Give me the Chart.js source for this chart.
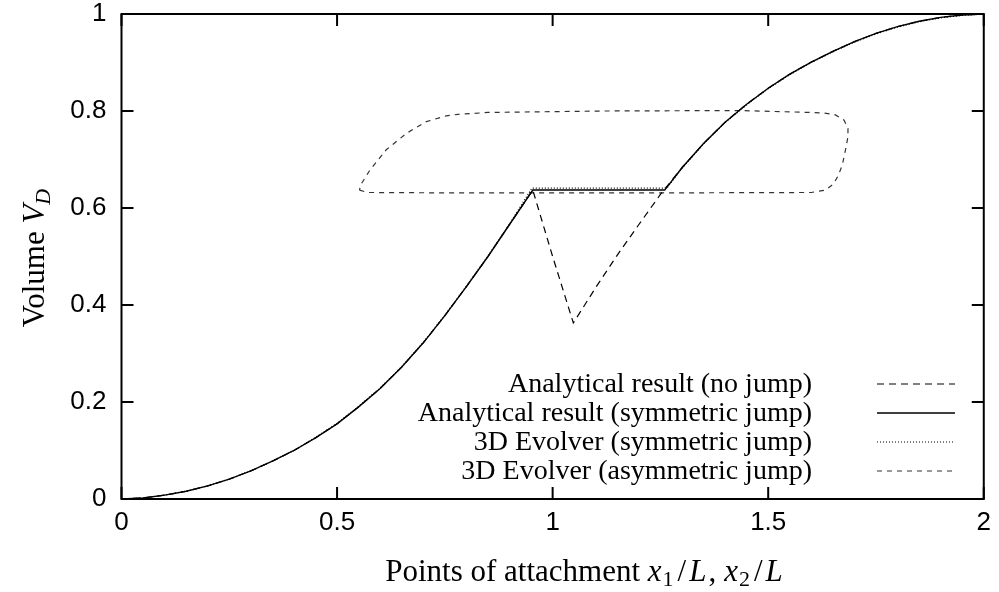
<!DOCTYPE html>
<html><head><meta charset="utf-8">
<script src="https://cdn.jsdelivr.net/npm/chart.js@4/dist/chart.umd.min.js"></script>
<style>html,body{margin:0;padding:0;background:#fff;}canvas{display:block;}</style>
</head><body>
<canvas id="c" width="999" height="592"></canvas>
<script>
// ---- tick values / labels ----
const xTickValues = [0, 0.5, 1, 1.5, 2];
const xTickLabels = ['0', '0.5', '1', '1.5', '2'];
const yTickValues = [0, 0.2, 0.4, 0.6, 0.8, 1];
const yTickLabels = ['0', '0.2', '0.4', '0.6', '0.8', '1'];

// ---- series labels ----
const seriesLabels = [
  'Analytical result (no jump)',
  'Analytical result (symmetric jump)',
  '3D Evolver (symmetric jump)',
  '3D Evolver (asymmetric jump)'
];

// ---- Analytical result (no jump) ----
const noJumpX = [0,0.05,0.1,0.15,0.2,0.25,0.3,0.35,0.4,0.45,0.5,0.55,0.6,0.65,0.7,0.75,0.8,0.85,0.9,0.954,
  1.0,1.048,1.1,1.15,1.2,1.25,1.3,1.35,1.4,1.45,1.5,1.55,1.6,1.65,1.7,1.75,1.8,1.85,1.9,1.95,2.0];
const noJumpV = [0,0.002,0.008,0.016,0.027,0.041,0.058,0.078,0.100,0.126,0.155,0.190,0.228,0.272,0.322,0.378,0.438,0.500,0.566,0.637,
  0.500,0.363,0.436,0.503,0.566,0.628,0.683,0.733,0.777,0.814,0.847,0.876,0.901,0.923,0.943,0.960,0.974,0.985,0.993,0.998,1.0];

// ---- Analytical result (symmetric jump) ----
const symX = [0,0.05,0.1,0.15,0.2,0.25,0.3,0.35,0.4,0.45,0.5,0.55,0.6,0.65,0.7,0.75,0.8,0.85,0.9,0.954,
  1.26,1.3,1.35,1.4,1.45,1.5,1.55,1.6,1.65,1.7,1.75,1.8,1.85,1.9,1.95,2.0];
const symV = [0,0.002,0.008,0.016,0.027,0.041,0.058,0.078,0.100,0.126,0.155,0.190,0.228,0.272,0.322,0.378,0.438,0.500,0.566,0.637,
  0.637,0.683,0.733,0.777,0.814,0.847,0.876,0.901,0.923,0.943,0.960,0.974,0.985,0.993,0.998,1.0];

// ---- 3D Evolver (symmetric jump) ----
const evoSymX = [0,0.05,0.1,0.15,0.2,0.25,0.3,0.35,0.4,0.45,0.5,0.55,0.6,0.65,0.7,0.75,0.8,0.85,0.9,0.952,
  1.265,1.3,1.35,1.4,1.45,1.5,1.55,1.6,1.65,1.7,1.75,1.8,1.85,1.9,1.95,2.0];
const evoSymV = [0,0.002,0.008,0.016,0.027,0.041,0.058,0.078,0.100,0.127,0.156,0.191,0.229,0.273,0.323,0.379,0.439,0.501,0.567,0.641,
  0.641,0.682,0.732,0.776,0.813,0.846,0.875,0.900,0.922,0.942,0.959,0.973,0.984,0.992,0.997,1.0];

// ---- 3D Evolver (asymmetric jump): closed loop ----
const evoAsymX = [0.552,0.57,0.8,1.2,1.6,1.633,1.652,1.663,1.672,1.680,1.685,1.685,1.676,1.656,1.629,1.6,1.43,1.12,0.85,0.78,0.753,0.707,0.661,0.614,0.576,0.555,0.552];
const evoAsymV = [0.637,0.632,0.631,0.631,0.632,0.637,0.650,0.668,0.689,0.723,0.747,0.764,0.781,0.792,0.796,0.797,0.801,0.800,0.797,0.793,0.790,0.778,0.754,0.720,0.678,0.648,0.637];

function pts(xs, vs) { return xs.map((x, i) => ({x: x, y: vs[i]})); }

const SERIF = '"Liberation Serif", "DejaVu Serif", serif';
const SANS = '"Liberation Sans", Arial, sans-serif';

function drawRuns(ctx, runs, cx, cy) {
  let total = 0;
  runs.forEach(r => { ctx.font = r.f; r.w = ctx.measureText(r.t).width + (r.pl || 0) + (r.pr || 0); total += r.w; });
  let x = cx - total / 2;
  ctx.textAlign = 'left';
  ctx.textBaseline = 'alphabetic';
  runs.forEach(r => { ctx.font = r.f; ctx.fillText(r.t, x + (r.pl || 0), cy + (r.dy || 0)); x += r.w; });
}

const framePlugin = {
  id: 'frame',
  afterDraw(chart) {
    const {ctx, chartArea: a, scales: {x, y}} = chart;
    ctx.save();
    ctx.setLineDash([]);
    ctx.strokeStyle = '#000';
    ctx.lineWidth = 2;
    ctx.strokeRect(a.left, a.top, a.right - a.left, a.bottom - a.top);
    ctx.beginPath();
    xTickValues.forEach(v => {
      const p = x.getPixelForValue(v);
      ctx.moveTo(p, a.bottom); ctx.lineTo(p, a.bottom - 12);
      ctx.moveTo(p, a.top); ctx.lineTo(p, a.top + 12);
    });
    yTickValues.forEach(v => {
      const p = y.getPixelForValue(v);
      ctx.moveTo(a.left, p); ctx.lineTo(a.left + 12, p);
      ctx.moveTo(a.right, p); ctx.lineTo(a.right - 12, p);
    });
    ctx.stroke();

    // legend (inside plot, bottom right)
    const textRight = 812, lineL = 877, lineR = 955, top = 384, step = 29;
    chart.data.datasets.forEach((ds, i) => {
      const yy = top + i * step;
      ctx.fillStyle = '#000';
      ctx.font = '28px ' + SERIF;
      ctx.textAlign = 'right';
      ctx.textBaseline = 'middle';
      ctx.fillText(ds.label, textRight, yy + 1);
      ctx.strokeStyle = ds.borderColor;
      ctx.lineWidth = ds.borderWidth;
      ctx.setLineDash(ds.borderDash || []);
      ctx.beginPath();
      ctx.moveTo(lineL, yy); ctx.lineTo(lineR, yy);
      ctx.stroke();
    });
    ctx.setLineDash([]);

    // axis titles
    ctx.fillStyle = '#000';
    const N = '31px ' + SERIF, I = 'italic 31px ' + SERIF, S = '22px ' + SERIF, SI = 'italic 22px ' + SERIF;
    drawRuns(ctx, [
      {t: 'Points of attachment ', f: N},
      {t: 'x', f: I, pr: 1}, {t: '1', f: S, dy: 5, pr: 1}, {t: '/', f: N, pl: 3, pr: 3}, {t: 'L', f: I, pr: 2}, {t: ',', f: N, pr: 8},
      {t: 'x', f: I, pr: 1}, {t: '2', f: S, dy: 5, pr: 1}, {t: '/', f: N, pl: 3, pr: 3}, {t: 'L', f: I}
    ], 584, 581);
    ctx.save();
    ctx.translate(44, 258);
    ctx.rotate(-Math.PI / 2);
    drawRuns(ctx, [
      {t: 'Volume ', f: N}, {t: 'V', f: I}, {t: 'D', f: SI, dy: 6}
    ], 0, 0);
    ctx.restore();
    ctx.restore();
  }
};

const line = (label, xs, vs, color, width, dash) => ({
  label: label, data: pts(xs, vs), showLine: true, borderColor: color, backgroundColor: color,
  borderWidth: width, borderDash: dash, pointRadius: 0, tension: 0, fill: false
});

new Chart(document.getElementById('c'), {
  type: 'scatter',
  data: {
    datasets: [
      line(seriesLabels[0], noJumpX, noJumpV, '#000', 1.2, [7, 5]),
      line(seriesLabels[1], symX, symV, '#000', 1.4, []),
      line(seriesLabels[2], evoSymX, evoSymV, '#000', 1.2, [1, 2]),
      line(seriesLabels[3], evoAsymX, evoAsymV, '#333', 1.2, [5, 5])
    ]
  },
  options: {
    responsive: false,
    animation: false,
    devicePixelRatio: 1,
    layout: {padding: {top: 0, right: 12, left: 0, bottom: 0}},
    plugins: {legend: {display: false}, tooltip: {enabled: false}},
    scales: {
      x: {
        type: 'linear', min: 0, max: 2,
        grid: {display: false, drawTicks: false},
        border: {display: false},
        afterBuildTicks: s => { s.ticks = xTickValues.map(v => ({value: v})); },
        afterFit: s => { s.height = 93; },
        ticks: {color: '#000', font: {family: SANS, size: 26}, padding: 8, maxRotation: 0,
          callback: (v, i) => xTickLabels[i]}
      },
      y: {
        type: 'linear', min: 0, max: 1,
        grid: {display: false, drawTicks: false},
        border: {display: false},
        afterBuildTicks: s => { s.ticks = yTickValues.map(v => ({value: v})); },
        afterFit: s => { s.width = 121.5; s.paddingTop = 14; s.paddingBottom = 0; },
        ticks: {color: '#000', font: {family: SANS, size: 26, lineHeight: 1.1}, padding: 15,
          callback: (v, i) => yTickLabels[i]}
      }
    }
  },
  plugins: [framePlugin]
});
</script>
</body></html>
